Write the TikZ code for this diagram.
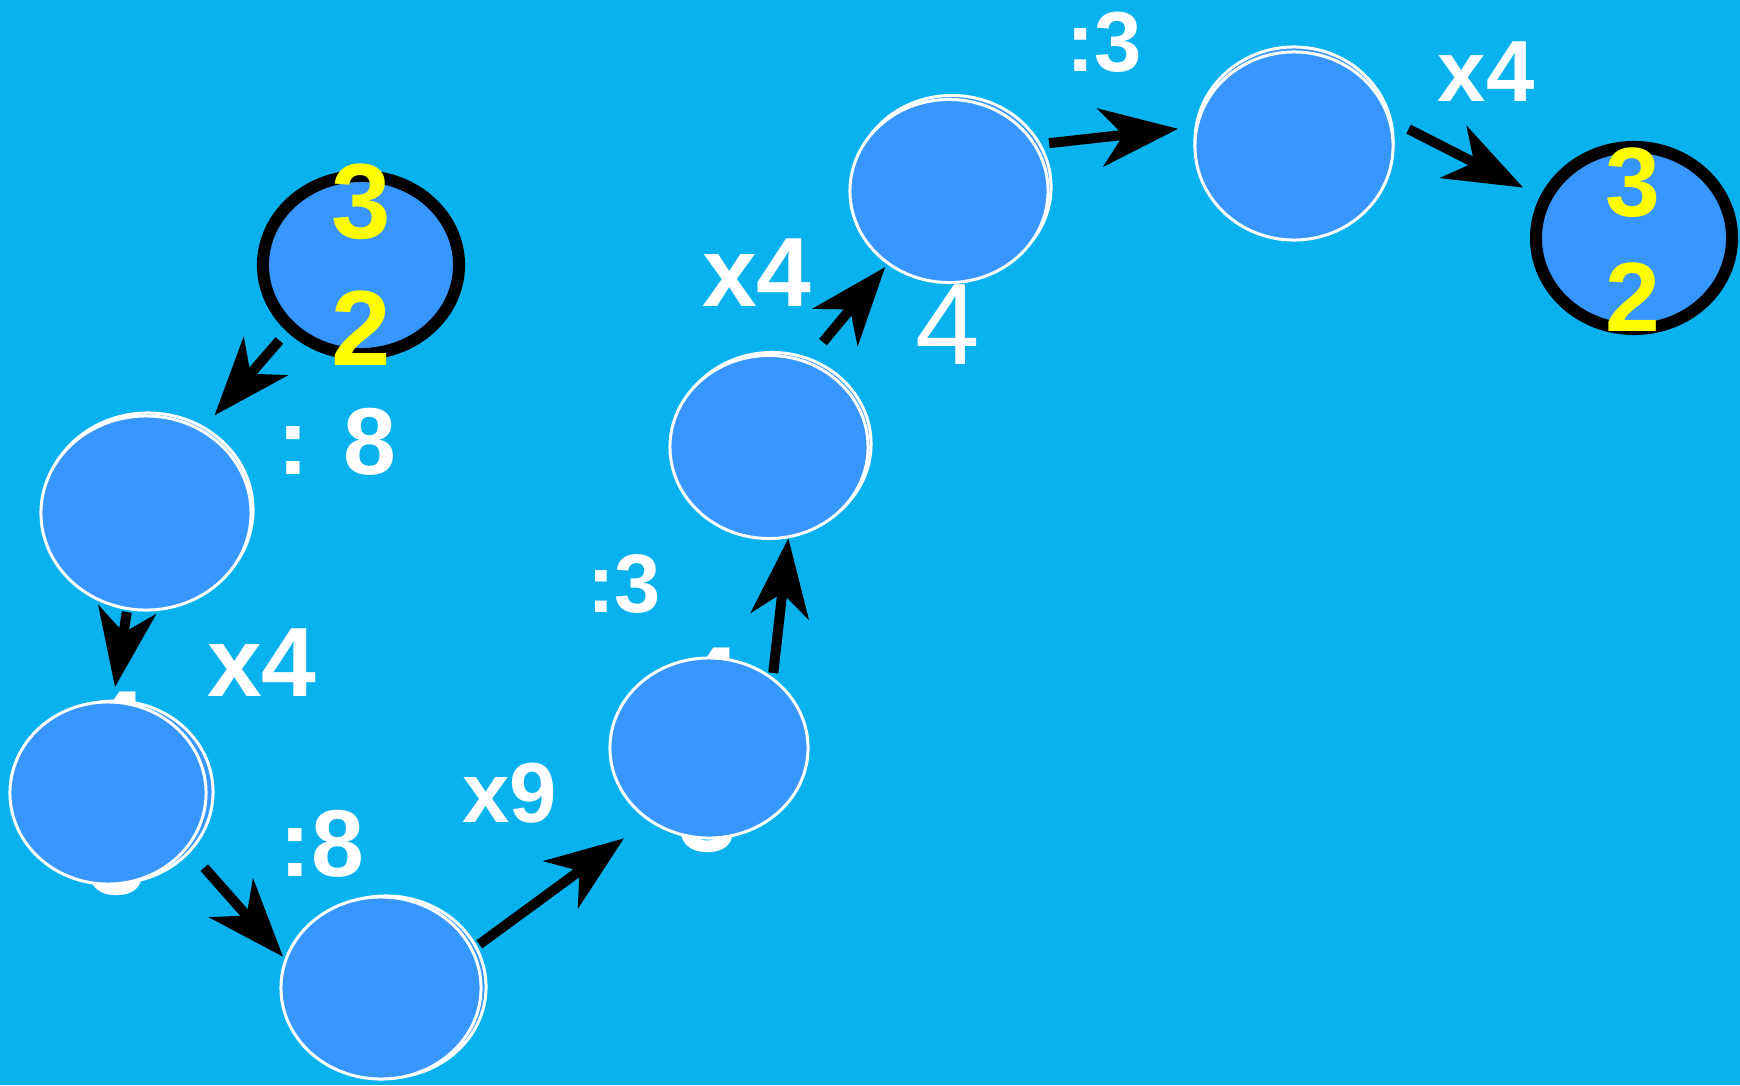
\documentclass[tikz,border=0pt]{standalone}
\usepackage{fontspec}
\setmainfont{Liberation Sans}
\usetikzlibrary{arrows.meta,shapes.geometric}
\definecolor{skyback}{RGB}{8,178,238}
\definecolor{stopblue}{RGB}{56,151,255}
\definecolor{numyellow}{RGB}{255,255,0}

\begin{document}
\begin{tikzpicture}[->,>={Stealth[length=7.8mm,width=5.8mm,inset=2.3mm]},
                    x=0.01cm,y=-0.01cm,
                    stop/.style={ellipse,fill=stopblue,draw=white,line width=0.3mm,
                                 minimum width=19.8mm,minimum height=18.3mm,inner sep=0pt},
                    ends/.style={stop,draw=black,line width=1.2mm,
                                 minimum width=19.6mm,minimum height=17.8mm},
                    hop/.style={line width=1mm},
                    op/.style={text=white,inner sep=0pt,font=\bfseries\fontsize{#1}{#1}\selectfont},
                    op/.default=28,
                    num/.style={text=numyellow,inner sep=0pt,font=\bfseries\fontsize{#1}{#1}\selectfont}]

  \useasboundingbox (0,0) rectangle (1740,1085);
  \fill[skyback] (0,0) rectangle (1740,1085);

  % numbers hidden behind the stops
  \node[op=30] (c4) at (117,728)  {4};
  \node[op=30] (c3) at (117,858)  {3};
  \node[op=30] (e4) at (711,684)  {4};
  \node[op=30] (e3) at (708,815)  {3};
  \node[text=white,inner sep=0pt,font=\fontsize{33}{33}\selectfont] (g4) at (948,325) {4};

  % second outlines
  \node[stop,minimum width=21mm,minimum height=19.4mm] (b') at (148,510) {};
  \node[stop,minimum width=19.6mm,minimum height=18.2mm] (c') at (115,792) {};
  \node[stop,minimum width=20mm,minimum height=18.2mm] (d') at (386,987) {};
  \node[stop] (f') at (772,444) {};
  \node[stop] (g') at (952,187) {};
  \node[stop,minimum height=18.8mm] (h') at (1294,141) {};

  % stops
  \node[ends] (s) at (361,265) {};
  \node[stop,minimum width=21mm,minimum height=19.4mm] (b) at (146,513) {};
  \node[stop,minimum width=19.6mm,minimum height=18.2mm] (c) at (108,793) {};
  \node[stop,minimum width=20mm,minimum height=18.2mm] (d) at (381,988) {};
  \node[stop,minimum height=18mm] (e) at (709,748) {};
  \node[stop] (f) at (769,447) {};
  \node[stop] (g) at (949,191) {};
  \node[stop,minimum height=18.8mm] (h) at (1294,146) {};
  \node[ends,minimum height=18.2mm] (t) at (1634,238) {};

  \node[num=30.4] (s3) at (361,202) {3};
  \node[num=30.4] (s2) at (361,328) {2};
  \node[num=28] (t3) at (1633,183) {3};
  \node[num=28] (t2) at (1633,297) {2};

  % operations
  \node[op=27]   (o1) at (337,442)  {: 8};
  \node[op]      (o2) at (262,663)  {x4};
  \node[op=27]   (o3) at (322,844)  {:8};
  \node[op=24.2] (o4) at (510,793)  {x9};
  \node[op=23.6] (o5) at (624,584)  {:3};
  \node[op]      (o6) at (757,273)  {x4};
  \node[op=24.2] (o7) at (1104,42)  {:3};
  \node[op=24.7] (o8) at (1486,72)  {x4};

  \path (s.222.6) edge[hop,shorten <=1.15mm,shorten >=1.85mm] (b.56.5)
        (b.259.1) edge[hop,shorten <=0.2mm,shorten >=1.37mm]  (c.87)
        (c.-35.3) edge[hop,shorten <=2.53mm,shorten >=0.25mm] (d.163.2)
        (d.23.3)  edge[hop,shorten <=0.77mm,shorten >=2.98mm] (e.230.8)
        (e.48.9)  edge[hop,shorten <=0.43mm]                  (f.-78.2)
        (f.66.8)  edge[hop,shorten <=2.45mm,shorten >=0.33mm] (g.230.8)
        (g.28.1)  edge[hop,shorten <=1.3mm,shorten >=1.75mm]  (h.169.1)
        (h.15.1)  edge[hop,shorten <=2mm,shorten >=1.9mm]     (t.156.4);

\end{tikzpicture}
\end{document}
